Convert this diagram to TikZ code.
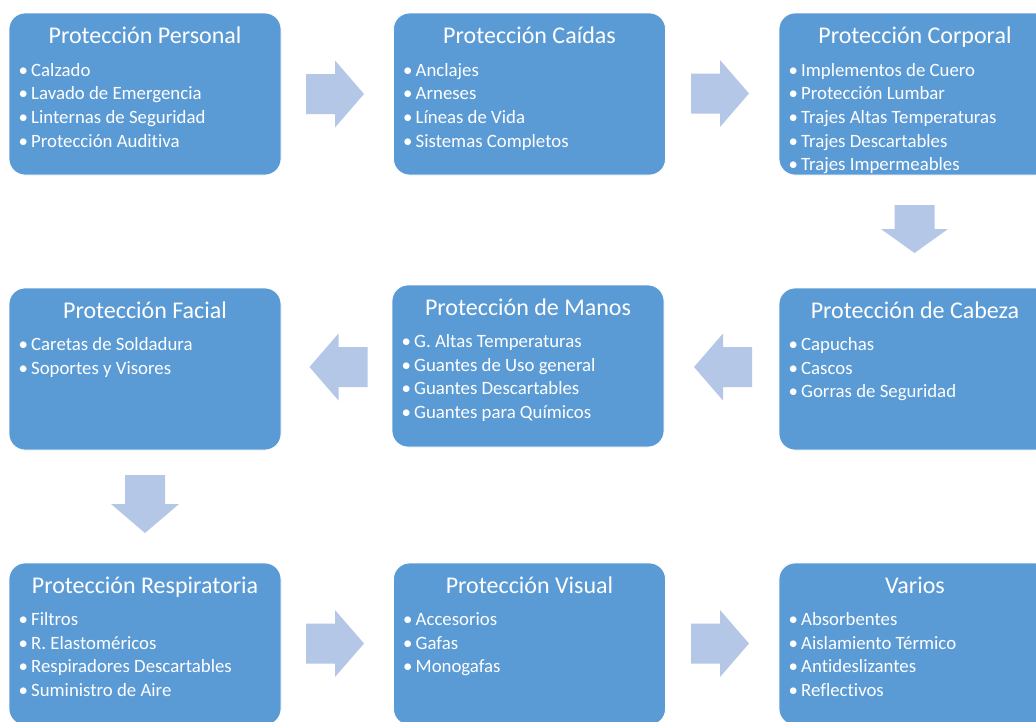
\documentclass[tikz,border=0pt]{standalone}
\usepackage{fontspec}
\setmainfont{Carlito}[Ligatures={NoCommon}]
\definecolor{boxblue}{HTML}{5B9BD5}
\definecolor{arrowblue}{HTML}{B4C7E7}
\newcommand\itm[1]{\makebox[12.5pt][l]{•}#1\par}
\newcommand\lst[1]{\parbox[t]{250pt}{\fontsize{18.8}{23.7}\selectfont\raggedright #1}}
\tikzset{
  card/.style={draw=white, line width=0.8pt, fill=boxblue, rounded corners=16pt,
    minimum width=272pt, minimum height=162pt, inner sep=0pt},
  cardtitle/.style={anchor=base, text=white, font=\fontsize{24}{29}\selectfont, inner sep=0pt},
  cardlist/.style={anchor=base west, text=white, inner sep=0pt},
  rarrow/.pic={\fill[arrowblue] (0,-20) -- (29,-20) -- (29,-33.5) -- (58,0) -- (29,33.5) -- (29,20) -- (0,20) -- cycle;},
}
\begin{document}
\begin{tikzpicture}[x=1pt,y=-1pt]
\useasboundingbox (0,0) rectangle (1036,721);
\clip (0,0) rectangle (1036,721);
\fill[white] (0,0) rectangle (1036,721);

% cards
\node[card] (b1) at (145,94) {};
\node[card] (b2) at (529.5,94) {};
\node[card] (b3) at (915,94) {};
\node[card] (b4) at (915,369) {};
\node[card] (b5) at (528,366) {};
\node[card] (b6) at (145,369) {};
\node[card] (b7) at (145,644) {};
\node[card] (b8) at (529.5,644) {};
\node[card] (b9) at (915,644) {};

% titles
\node[cardtitle] (t1) at (145,43) {Protección Personal};
\node[cardtitle] (t2) at (529.5,43) {Protección Caídas};
\node[cardtitle] (t3) at (915,43) {Protección Corporal};
\node[cardtitle] (t4) at (915,318) {Protección de Cabeza};
\node[cardtitle] (t5) at (528,315) {Protección de Manos};
\node[cardtitle] (t6) at (145,318) {Protección Facial};
\node[cardtitle] (t7) at (145,593) {Protección Respiratoria};
\node[cardtitle] (t8) at (529.5,593) {Protección Visual};
\node[cardtitle] (t9) at (915,593) {Varios};

% lists
\node[cardlist] (l1) at (18.5,76) {\lst{\itm{Calzado}\itm{Lavado de Emergencia}\itm{Linternas de Seguridad}\itm{Protección Auditiva}}};
\node[cardlist] (l2) at (403,76) {\lst{\itm{Anclajes}\itm{Arneses}\itm{Líneas de Vida}\itm{Sistemas Completos}}};
\node[cardlist] (l3) at (788.5,76) {\lst{\itm{Implementos de Cuero}\itm{Protección Lumbar}\itm{Trajes Altas Temperaturas}\itm{Trajes Descartables}\itm{Trajes Impermeables}}};
\node[cardlist] (l4) at (788.5,350.5) {\lst{\itm{Capuchas}\itm{Cascos}\itm{Gorras de Seguridad}}};
\node[cardlist] (l5) at (401.5,347.5) {\lst{\itm{G. Altas Temperaturas}\itm{Guantes de Uso general}\itm{Guantes Descartables}\itm{Guantes para Químicos}}};
\node[cardlist] (l6) at (18.5,350.5) {\lst{\itm{Caretas de Soldadura}\itm{Soportes y Visores}}};
\node[cardlist] (l7) at (18.5,625.5) {\lst{\itm{Filtros}\itm{R. Elastoméricos}\itm{Respiradores Descartables}\itm{Suministro de Aire}}};
\node[cardlist] (l8) at (403,625.5) {\lst{\itm{Accesorios}\itm{Gafas}\itm{Monogafas}}};
\node[cardlist] (l9) at (788.5,625.5) {\lst{\itm{Absorbentes}\itm{Aislamiento Térmico}\itm{Antideslizantes}\itm{Reflectivos}}};

% block arrows
\pic at (306,94) {rarrow};
\pic at (691,93.5) {rarrow};
\pic[xscale=-1] at (752,367) {rarrow};
\pic[xscale=-1] at (367.5,367) {rarrow};
\pic at (306,643.5) {rarrow};
\pic at (691,643.5) {rarrow};
\fill[arrowblue] (894.5,205) -- (934.5,205) -- (934.5,229) -- (948,229) -- (914.5,253) -- (881,229) -- (894.5,229) -- cycle;
\fill[arrowblue] (125,475) -- (165,475) -- (165,504) -- (179,504) -- (145,533) -- (111,504) -- (125,504) -- cycle;
\end{tikzpicture}
\end{document}
